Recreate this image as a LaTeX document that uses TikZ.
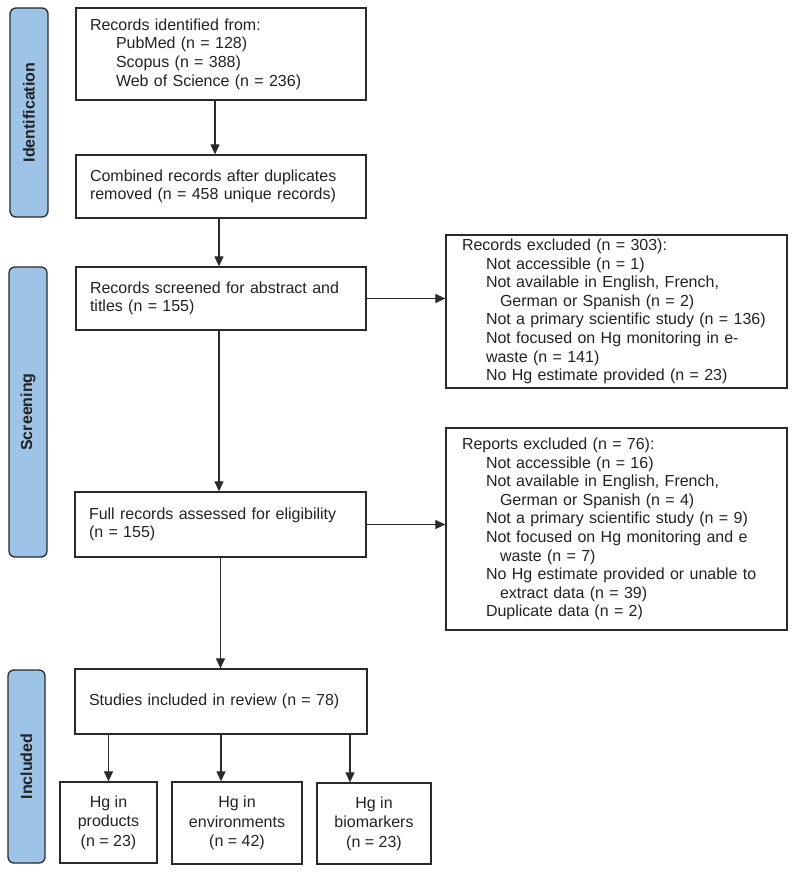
\documentclass[tikz,border=0pt]{standalone}
\usepackage{fontspec}
\setmainfont{Liberation Sans}
\usetikzlibrary{arrows.meta}
\definecolor{barfill}{HTML}{9DC3E6}
\definecolor{lineC}{HTML}{2A2A2A}
\definecolor{txt}{HTML}{222222}
\tikzset{
  box/.style={draw=lineC, line width=1.3pt, rectangle, inner xsep=14pt, inner ysep=0pt,
    align=left, text=txt, font=\fontsize{16}{18.6}\selectfont, anchor=center},
  cbox/.style={draw=lineC, line width=1.3pt, rectangle, inner sep=0pt,
    align=center, text=txt, font=\fontsize{16}{19.5}\selectfont},
  phase/.style={draw=lineC, line width=1.3pt, fill=barfill, rounded corners=6pt,
    minimum width=38pt, inner sep=0pt, text=txt,
    font=\bfseries\fontsize{16}{18}\selectfont},
  arr/.style={draw=lineC, line width=1.25pt, -{Triangle[length=10pt,width=9pt]}}
}
\newcommand{\ind}{\hspace*{24pt}}
\newcommand{\indd}{\hspace*{38pt}}
\begin{document}
\begin{tikzpicture}[x=1pt,y=-1pt]
\useasboundingbox (0,0) rectangle (794,872);
% phase bars
\node[phase, minimum height=209pt] (pid) at (29,112.5) {};
\node[rotate=90, text=txt, font=\bfseries\fontsize{16}{18}\selectfont] (pidt) at (pid.center) {Identification};
\node[phase, minimum height=290pt] (psc) at (28,412) {};
\node[rotate=90, text=txt, font=\bfseries\fontsize{16}{18}\selectfont] (psct) at (psc.center) {Screening};
\node[phase, minimum height=193pt, minimum width=37pt] (pin) at (26.5,766.5) {};
\node[rotate=90, text=txt, font=\bfseries\fontsize{16}{18}\selectfont] (pint) at (pin.center) {Included};
% main column
\node[box, minimum width=290pt, minimum height=92pt, text width=262pt] (b1) at (221,54)
  {Records identified from:\\ \hspace*{26pt}PubMed (n = 128)\\ \hspace*{26pt}Scopus (n = 388)\\ \hspace*{26pt}Web of Science (n = 236)};
\node[box, minimum width=290pt, minimum height=63pt, text width=262pt] (b2) at (221,186.5)
  {Combined records after duplicates\\ removed (n = 458 unique records)};
\node[box, minimum width=290pt, minimum height=63pt, text width=262pt] (b3) at (221,298.5)
  {Records screened for abstract and\\ titles (n = 155)};
\node[box, minimum width=291pt, minimum height=65pt, text width=263pt] (b4) at (220.5,524.5)
  {Full records assessed for eligibility\\ (n = 155)};
\node[box, minimum width=292pt, minimum height=65pt, text width=264pt] (b5) at (221,701.5)
  {Studies included in review (n = 78)};
% right boxes
\node[box, inner xsep=16pt, minimum width=341pt, minimum height=153pt, text width=309pt] (r1) at (616.5,311.5)
  {Records excluded (n = 303):\\ \ind Not accessible (n = 1)\\ \ind Not available in English, French,\\ \indd German or Spanish (n = 2)\\ \ind Not a primary scientific study (n = 136)\\ \ind Not focused on Hg monitoring in e-\\ \ind waste (n = 141)\\ \ind No Hg estimate provided (n = 23)};
\node[box, inner xsep=16pt, minimum width=341pt, minimum height=202pt, text width=309pt] (r2) at (616.5,529)
  {Reports excluded (n = 76):\\ \ind Not accessible (n = 16)\\ \ind Not available in English, French,\\ \indd German or Spanish (n = 4)\\ \ind Not a primary scientific study (n = 9)\\ \ind Not focused on Hg monitoring and e\\ \indd waste (n = 7)\\ \ind No Hg estimate provided or unable to\\ \indd extract data (n = 39)\\ \ind Duplicate data (n = 2)};
% bottom boxes
\node[cbox, minimum width=97pt, minimum height=81pt] (c1) at (108.5,822.5) {Hg in\\ products\\ (n = 23)};
\node[cbox, minimum width=130pt, minimum height=82pt] (c2) at (237,823) {Hg in\\ environments\\ (n = 42)};
\node[cbox, minimum width=114pt, minimum height=81pt] (c3) at (374,823.5) {Hg in\\ biomarkers\\ (n = 23)};
% arrows
\coordinate (a1) at (215,100);
\draw[arr] (a1 |- b1.south) -- (a1 |- b2.north);
\coordinate (a2) at (219,220);
\draw[arr] (a2 |- b2.south) -- (a2 |- b3.north);
\draw[arr] (a2 |- b3.south) -- (a2 |- b4.north);
\draw[arr] (b4.south) -- (b4.south |- b5.north);
\draw[arr] (b3.east) -- (b3.east -| r1.west);
\draw[arr] (b4.east) -- (b4.east -| r2.west);
\draw[arr] (c1.north |- b5.south) -- (c1.north);
\draw[arr] (b5.south) -- (b5.south |- c2.north);
\coordinate (s3) at (350,734);
\draw[arr] (s3 |- b5.south) -- (s3 |- c3.north);
\end{tikzpicture}
\end{document}
